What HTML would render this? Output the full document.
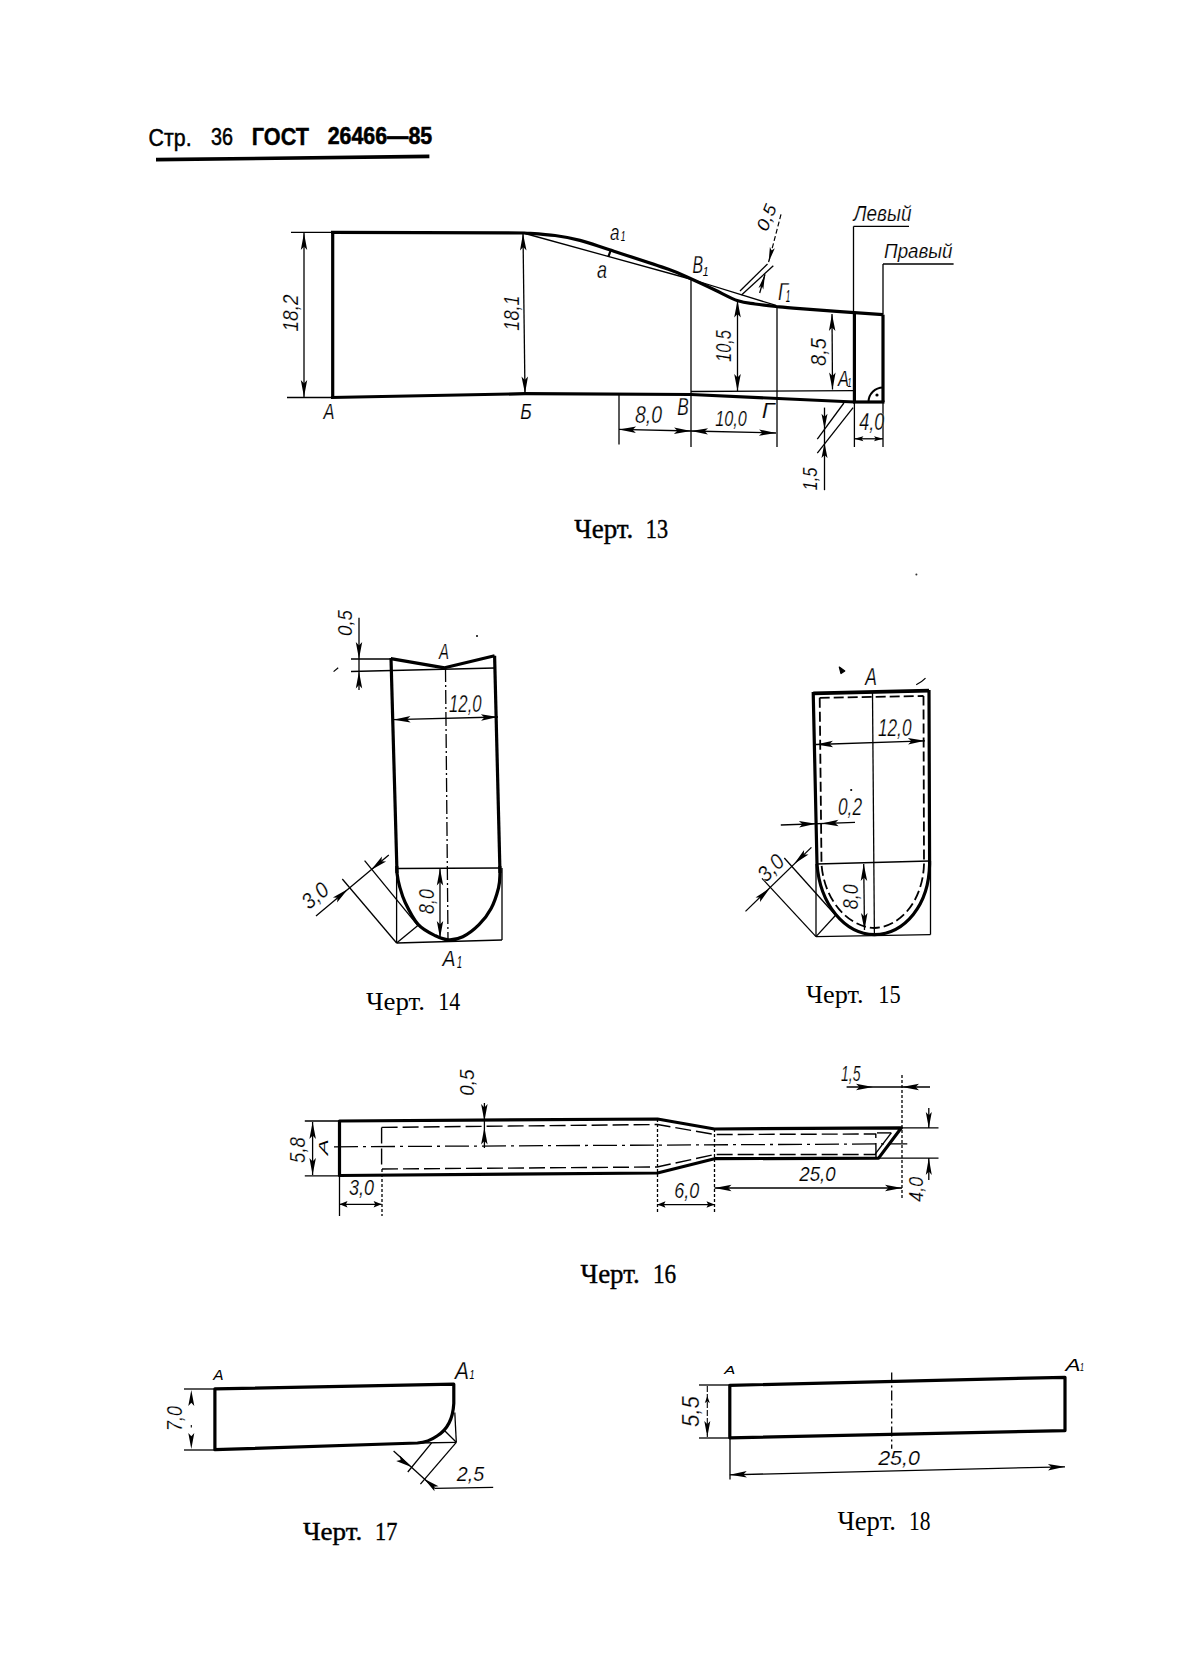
<!DOCTYPE html>
<html><head><meta charset="utf-8"><style>
html,body{margin:0;padding:0;background:#fff;}
svg{display:block;}
text{fill:#000;}
</style></head><body>
<svg width="1187" height="1679" viewBox="0 0 1187 1679">
<rect width="1187" height="1679" fill="#fff"/>
<text x="148.6" y="145.8" font-family="Liberation Sans, sans-serif" font-weight="normal" font-size="24.35" textLength="43.0" lengthAdjust="spacingAndGlyphs" stroke="#000" stroke-width="0.5">Стр.</text>
<text x="211" y="145.3" font-family="Liberation Sans, sans-serif" font-weight="normal" font-size="23.91" textLength="22" lengthAdjust="spacingAndGlyphs" stroke="#000" stroke-width="0.5">36</text>
<text x="251.8" y="144.6" font-family="Liberation Sans, sans-serif" font-weight="bold" font-size="24.35" textLength="57.19999999999999" lengthAdjust="spacingAndGlyphs" stroke="#000" stroke-width="0.4">ГОСТ</text>
<text x="327.7" y="143.8" font-family="Liberation Sans, sans-serif" font-weight="bold" font-size="24.64" textLength="104.5" lengthAdjust="spacingAndGlyphs" stroke="#000" stroke-width="0.6">26466—85</text>
<line x1="156" y1="159.6" x2="429.4" y2="156.4" stroke="#000" stroke-width="3.6"/>
<line x1="332.7" y1="232.3" x2="332.7" y2="397.5" stroke="#000" stroke-width="3.2"/>
<line x1="331" y1="232.3" x2="525" y2="233" stroke="#000" stroke-width="3.2"/>
<line x1="331" y1="397.5" x2="525" y2="393.7" stroke="#000" stroke-width="3.2"/>
<line x1="525" y1="393.7" x2="691" y2="394.5" stroke="#000" stroke-width="3.2"/>
<line x1="691" y1="394.5" x2="854.4" y2="402" stroke="#000" stroke-width="3.2"/>
<path d="M525,233 C530.0,233.4 545.8,234.3 555,235.5 C564.2,236.7 570.9,238.0 580,240.4 C589.1,242.8 594.8,245.0 609.5,249.8 C624.2,254.6 654.8,264.4 668.5,269.3 C682.2,274.2 684.2,275.9 692,279.3 C699.8,282.8 707.4,286.4 715,290 C722.6,293.6 731.2,298.5 737.9,300.8 C744.6,303.1 748.7,303.1 755,304 C761.3,304.9 768.3,305.7 775.8,306.5 C783.3,307.3 782.1,307.3 800,308.7 C817.9,310.1 869.2,313.7 883,314.7" fill="none" stroke="#000" stroke-width="3.2" stroke-linejoin="round"/>
<line x1="525" y1="233.5" x2="692" y2="279.5" stroke="#000" stroke-width="1.3"/>
<line x1="692" y1="279.5" x2="776" y2="305.4" stroke="#000" stroke-width="1.3"/>
<line x1="610.7" y1="250.4" x2="608.3" y2="256.9" stroke="#000" stroke-width="2.2"/>
<line x1="854.4" y1="314" x2="854.4" y2="402" stroke="#000" stroke-width="3.2"/>
<line x1="883" y1="314.7" x2="883" y2="402" stroke="#000" stroke-width="3.2"/>
<line x1="853" y1="402" x2="884.5" y2="402" stroke="#000" stroke-width="3.2"/>
<path d="M868.5,402 A14.5,14.5 0 0 1 883,387.5" fill="none" stroke="#000" stroke-width="2" stroke-linejoin="round"/>
<circle cx="877" cy="395" r="1.6" fill="#000"/>
<line x1="691" y1="391.5" x2="854" y2="390.7" stroke="#000" stroke-width="1.3"/>
<line x1="291" y1="232.3" x2="332" y2="232.3" stroke="#000" stroke-width="1.3"/>
<line x1="287" y1="397.5" x2="332" y2="397.5" stroke="#000" stroke-width="1.3"/>
<line x1="304" y1="233" x2="304" y2="397" stroke="#000" stroke-width="1.3"/>
<polygon points="304.0,233.0 307.2,250.0 304.0,246.6 300.8,250.0" fill="#000"/>
<polygon points="304.0,397.0 300.8,380.0 304.0,383.4 307.2,380.0" fill="#000"/>
<line x1="523" y1="233.5" x2="525" y2="393.5" stroke="#000" stroke-width="1.3"/>
<polygon points="523.0,233.5 526.5,250.5 523.2,247.1 520.0,250.5" fill="#000"/>
<polygon points="525.0,393.5 521.5,376.5 524.8,379.9 528.0,376.5" fill="#000"/>
<line x1="691" y1="280" x2="691" y2="447" stroke="#000" stroke-width="1.3"/>
<line x1="777" y1="306" x2="777" y2="447" stroke="#000" stroke-width="1.3"/>
<line x1="619" y1="393" x2="619" y2="444.5" stroke="#000" stroke-width="1.3"/>
<line x1="854.4" y1="402" x2="854.4" y2="447" stroke="#000" stroke-width="1.3"/>
<line x1="883" y1="402" x2="883" y2="447" stroke="#000" stroke-width="1.3"/>
<line x1="737.5" y1="300.5" x2="737.5" y2="391" stroke="#000" stroke-width="1.3"/>
<polygon points="737.5,300.5 740.8,317.5 737.5,314.1 734.2,317.5" fill="#000"/>
<polygon points="737.5,391.0 734.2,374.0 737.5,377.4 740.8,374.0" fill="#000"/>
<line x1="832" y1="314" x2="832.5" y2="389.6" stroke="#000" stroke-width="1.3"/>
<polygon points="832.0,314.0 835.4,331.0 832.1,327.6 828.9,331.0" fill="#000"/>
<polygon points="832.5,389.6 829.1,372.6 832.4,376.0 835.6,372.6" fill="#000"/>
<line x1="619" y1="429.4" x2="691" y2="431" stroke="#000" stroke-width="1.3"/>
<polygon points="619.0,429.4 636.1,426.5 632.6,429.7 635.9,433.0" fill="#000"/>
<polygon points="691.0,431.0 673.9,433.9 677.4,430.7 674.1,427.4" fill="#000"/>
<line x1="691" y1="431" x2="776" y2="433" stroke="#000" stroke-width="1.3"/>
<polygon points="691.0,431.0 708.1,428.2 704.6,431.3 707.9,434.6" fill="#000"/>
<polygon points="776.0,433.0 758.9,435.8 762.4,432.7 759.1,429.4" fill="#000"/>
<line x1="854.4" y1="438.8" x2="883" y2="438.8" stroke="#000" stroke-width="1.3"/>
<polygon points="854.4,438.8 863.4,436.3 861.6,438.8 863.4,441.3" fill="#000"/>
<polygon points="883.0,438.8 874.0,441.3 875.8,438.8 874.0,436.3" fill="#000"/>
<line x1="853.5" y1="226.4" x2="909" y2="226.4" stroke="#000" stroke-width="1.3"/>
<line x1="853.5" y1="226.4" x2="853.5" y2="314" stroke="#000" stroke-width="1.3"/>
<line x1="883" y1="264" x2="953.6" y2="264" stroke="#000" stroke-width="1.3"/>
<line x1="883" y1="264" x2="883" y2="314.7" stroke="#000" stroke-width="1.3"/>
<line x1="740" y1="291" x2="767.5" y2="264" stroke="#000" stroke-width="1.3"/>
<line x1="741.5" y1="295" x2="773.3" y2="265.8" stroke="#000" stroke-width="1.3"/>
<line x1="781" y1="214.3" x2="768.6" y2="262.2" stroke="#000" stroke-width="1.2" stroke-dasharray="5,2.5"/>
<polygon points="768.6,262.2 769.9,247.1 771.6,250.6 774.8,248.3" fill="#000"/>
<line x1="759.7" y1="293" x2="765" y2="274.3" stroke="#000" stroke-width="1.3"/>
<polygon points="765.0,274.3 763.3,289.4 761.7,285.8 758.5,288.0" fill="#000"/>
<line x1="843.9" y1="403" x2="817.3" y2="439.2" stroke="#000" stroke-width="1.3"/>
<line x1="853.1" y1="407.6" x2="817.3" y2="453.1" stroke="#000" stroke-width="1.3"/>
<line x1="824.5" y1="407.6" x2="824.5" y2="490.2" stroke="#000" stroke-width="1.3"/>
<polygon points="824.5,428.7 821.5,413.7 824.5,416.7 827.5,413.7" fill="#000"/>
<polygon points="824.5,443.0 827.5,458.0 824.5,455.0 821.5,458.0" fill="#000"/>
<text transform="translate(290,313) rotate(-90)" x="0" y="7.50" font-family="Liberation Sans, sans-serif" font-style="italic" font-weight="normal" font-size="21.74" text-anchor="middle" textLength="37" lengthAdjust="spacingAndGlyphs" stroke="#fff" stroke-width="0.20">18,2</text>
<text transform="translate(511,313) rotate(-90)" x="0" y="7.50" font-family="Liberation Sans, sans-serif" font-style="italic" font-weight="normal" font-size="21.74" text-anchor="middle" textLength="35.5" lengthAdjust="spacingAndGlyphs" stroke="#fff" stroke-width="0.20">18,1</text>
<text transform="translate(723.5,346) rotate(-90)" x="0" y="7.50" font-family="Liberation Sans, sans-serif" font-style="italic" font-weight="normal" font-size="21.74" text-anchor="middle" textLength="32" lengthAdjust="spacingAndGlyphs" stroke="#fff" stroke-width="0.20">10,5</text>
<text transform="translate(818,352) rotate(-90)" x="0" y="7.50" font-family="Liberation Sans, sans-serif" font-style="italic" font-weight="normal" font-size="21.74" text-anchor="middle" textLength="28" lengthAdjust="spacingAndGlyphs" stroke="#fff" stroke-width="0.20">8,5</text>
<text transform="translate(810,479) rotate(-90)" x="0" y="7.00" font-family="Liberation Sans, sans-serif" font-style="italic" font-weight="normal" font-size="20.29" text-anchor="middle" textLength="23" lengthAdjust="spacingAndGlyphs" stroke="#fff" stroke-width="0.15">1,5</text>
<text transform="translate(329,411.5) rotate(0)" x="0" y="7.50" font-family="Liberation Sans, sans-serif" font-style="italic" font-weight="normal" font-size="21.74" text-anchor="middle" textLength="11" lengthAdjust="spacingAndGlyphs" stroke="#fff" stroke-width="0.20">А</text>
<text transform="translate(526,411.5) rotate(0)" x="0" y="7.50" font-family="Liberation Sans, sans-serif" font-style="italic" font-weight="normal" font-size="21.74" text-anchor="middle" textLength="11.5" lengthAdjust="spacingAndGlyphs" stroke="#fff" stroke-width="0.20">Б</text>
<text transform="translate(683,407) rotate(0)" x="0" y="8.00" font-family="Liberation Sans, sans-serif" font-style="italic" font-weight="normal" font-size="23.19" text-anchor="middle" textLength="11.5" lengthAdjust="spacingAndGlyphs" stroke="#fff" stroke-width="0.25">В</text>
<text transform="translate(768,410.2) rotate(0)" x="0" y="7.50" font-family="Liberation Sans, sans-serif" font-style="italic" font-weight="normal" font-size="21.74" text-anchor="middle" textLength="12.7" lengthAdjust="spacingAndGlyphs" stroke="#fff" stroke-width="0.20">Г</text>
<text transform="translate(648.5,415) rotate(0)" x="0" y="8.00" font-family="Liberation Sans, sans-serif" font-style="italic" font-weight="normal" font-size="23.19" text-anchor="middle" textLength="27" lengthAdjust="spacingAndGlyphs" stroke="#fff" stroke-width="0.25">8,0</text>
<text transform="translate(731,418) rotate(0)" x="0" y="7.80" font-family="Liberation Sans, sans-serif" font-style="italic" font-weight="normal" font-size="22.61" text-anchor="middle" textLength="31.6" lengthAdjust="spacingAndGlyphs" stroke="#fff" stroke-width="0.23">10,0</text>
<text transform="translate(871.8,421.5) rotate(0)" x="0" y="8.00" font-family="Liberation Sans, sans-serif" font-style="italic" font-weight="normal" font-size="23.19" text-anchor="middle" textLength="25" lengthAdjust="spacingAndGlyphs" stroke="#fff" stroke-width="0.25">4,0</text>
<text transform="translate(602.1,269.5) rotate(0)" x="0" y="8.00" font-family="Liberation Sans, sans-serif" font-style="italic" font-weight="normal" font-size="23.19" text-anchor="middle" textLength="10" lengthAdjust="spacingAndGlyphs" stroke="#fff" stroke-width="0.25">а</text>
<text transform="translate(614.7,232.1) rotate(0)" x="0" y="7.65" font-family="Liberation Sans, sans-serif" font-style="italic" font-weight="normal" font-size="22.17" text-anchor="middle" textLength="9.5" lengthAdjust="spacingAndGlyphs" stroke="#fff" stroke-width="0.22">а</text>
<text transform="translate(623,236.7) rotate(0)" x="0" y="4.75" font-family="Liberation Sans, sans-serif" font-style="italic" font-weight="normal" font-size="13.77" text-anchor="middle" textLength="4.7" lengthAdjust="spacingAndGlyphs" stroke="#fff" stroke-width="0.00">1</text>
<text transform="translate(697.9,265.1) rotate(0)" x="0" y="8.25" font-family="Liberation Sans, sans-serif" font-style="italic" font-weight="normal" font-size="23.91" text-anchor="middle" textLength="10.6" lengthAdjust="spacingAndGlyphs" stroke="#fff" stroke-width="0.25">В</text>
<text transform="translate(705.6,271.6) rotate(0)" x="0" y="4.70" font-family="Liberation Sans, sans-serif" font-style="italic" font-weight="normal" font-size="13.62" text-anchor="middle" textLength="5.8" lengthAdjust="spacingAndGlyphs" stroke="#fff" stroke-width="0.00">1</text>
<text transform="translate(783,291.8) rotate(0)" x="0" y="8.20" font-family="Liberation Sans, sans-serif" font-style="italic" font-weight="normal" font-size="23.77" text-anchor="middle" textLength="10" lengthAdjust="spacingAndGlyphs" stroke="#fff" stroke-width="0.25">Г</text>
<text transform="translate(788,296) rotate(0)" x="0" y="5.50" font-family="Liberation Sans, sans-serif" font-style="italic" font-weight="normal" font-size="15.94" text-anchor="middle" textLength="4.5" lengthAdjust="spacingAndGlyphs" stroke="#fff" stroke-width="0.00">1</text>
<text transform="translate(843.5,378.2) rotate(0)" x="0" y="7.50" font-family="Liberation Sans, sans-serif" font-style="italic" font-weight="normal" font-size="21.74" text-anchor="middle" textLength="11" lengthAdjust="spacingAndGlyphs" stroke="#fff" stroke-width="0.20">А</text>
<text transform="translate(849.5,382) rotate(0)" x="0" y="4.50" font-family="Liberation Sans, sans-serif" font-style="italic" font-weight="normal" font-size="13.04" text-anchor="middle" textLength="4" lengthAdjust="spacingAndGlyphs" stroke="#fff" stroke-width="0.00">1</text>
<text transform="translate(882.5,213) rotate(0)" x="0" y="7.85" font-family="Liberation Sans, sans-serif" font-style="italic" font-weight="normal" font-size="22.75" text-anchor="middle" textLength="58" lengthAdjust="spacingAndGlyphs" stroke="#fff" stroke-width="0.23">Левый</text>
<text transform="translate(918.3,250.8) rotate(0)" x="0" y="7.25" font-family="Liberation Sans, sans-serif" font-style="italic" font-weight="normal" font-size="21.01" text-anchor="middle" textLength="68.5" lengthAdjust="spacingAndGlyphs" stroke="#fff" stroke-width="0.18">Правый</text>
<text transform="translate(766.5,217.5) rotate(-68)" x="0" y="6.00" font-family="Liberation Sans, sans-serif" font-style="italic" font-weight="normal" font-size="17.39" text-anchor="middle" textLength="27" lengthAdjust="spacingAndGlyphs" stroke="#fff" stroke-width="0.05">0,5</text>
<polyline points="390.8,658.6 444.6,667.8 494.6,655.8" fill="none" stroke="#000" stroke-width="3.2" stroke-linejoin="round"/>
<line x1="391" y1="658" x2="397" y2="873" stroke="#000" stroke-width="3.2"/>
<line x1="500" y1="873" x2="494.6" y2="655.8" stroke="#000" stroke-width="3.2"/>
<path d="M396.8,866 C396.8,867.2 396.6,869.7 397,873 C397.4,876.3 398.1,881.1 399.5,886 C400.9,890.9 402.1,896.0 405.2,902.5 C408.3,909.0 413.2,919.2 418.3,924.7 C423.4,930.2 430.4,933.3 435.5,935.8 C440.6,938.3 444.1,939.7 448.6,939.9 C453.2,940.1 457.7,939.3 462.8,936.8 C467.9,934.3 474.3,929.4 479,924.7 C483.7,920.0 487.9,914.6 491.1,908.5 C494.4,902.4 497.0,893.9 498.5,888 C500.0,882.1 499.8,876.7 500,873 C500.2,869.3 499.8,867.2 499.8,866" fill="none" stroke="#000" stroke-width="3.2" stroke-linejoin="round"/>
<line x1="351" y1="659" x2="391" y2="659" stroke="#000" stroke-width="1.3"/>
<line x1="351" y1="671.5" x2="494.6" y2="668" stroke="#000" stroke-width="1.3"/>
<line x1="359" y1="617.8" x2="359" y2="690" stroke="#000" stroke-width="1.3"/>
<polygon points="359.0,659.0 355.8,642.0 359.0,645.4 362.2,642.0" fill="#000"/>
<polygon points="359.0,671.5 362.2,688.5 359.0,685.1 355.8,688.5" fill="#000"/>
<line x1="445.5" y1="668" x2="448" y2="940" stroke="#000" stroke-width="1.3" stroke-dasharray="14,3,2,3"/>
<line x1="393.5" y1="719.7" x2="498" y2="717" stroke="#000" stroke-width="1.3"/>
<polygon points="393.5,719.7 410.4,716.0 407.1,719.3 410.6,722.5" fill="#000"/>
<polygon points="498.0,717.0 481.1,720.7 484.4,717.4 480.9,714.2" fill="#000"/>
<line x1="397" y1="868.5" x2="500" y2="868" stroke="#000" stroke-width="1.3"/>
<line x1="396.6" y1="868" x2="396.6" y2="943" stroke="#000" stroke-width="1.3"/>
<line x1="502" y1="868" x2="502" y2="940" stroke="#000" stroke-width="1.3"/>
<line x1="396.6" y1="943" x2="502" y2="940" stroke="#000" stroke-width="1.3"/>
<line x1="440" y1="868.5" x2="440" y2="938" stroke="#000" stroke-width="1.3"/>
<polygon points="440.0,868.5 443.2,885.5 440.0,882.1 436.8,885.5" fill="#000"/>
<polygon points="440.0,938.0 436.8,921.0 440.0,924.4 443.2,921.0" fill="#000"/>
<line x1="364.6" y1="860.7" x2="417.9" y2="925.6" stroke="#000" stroke-width="1.3"/>
<line x1="342.3" y1="879" x2="396.6" y2="943" stroke="#000" stroke-width="1.3"/>
<line x1="396.6" y1="943" x2="417.9" y2="925.6" stroke="#000" stroke-width="1.3"/>
<line x1="316" y1="916" x2="388.8" y2="855" stroke="#000" stroke-width="1.3"/>
<polygon points="371.0,870.0 381.9,856.6 381.4,861.2 386.1,861.5" fill="#000"/>
<polygon points="348.0,889.0 337.1,902.4 337.6,897.8 332.9,897.5" fill="#000"/>
<text transform="translate(344.5,623) rotate(-90)" x="0" y="7.00" font-family="Liberation Sans, sans-serif" font-style="italic" font-weight="normal" font-size="20.29" text-anchor="middle" textLength="26" lengthAdjust="spacingAndGlyphs" stroke="#fff" stroke-width="0.15">0,5</text>
<text transform="translate(444,651.7) rotate(0)" x="0" y="7.75" font-family="Liberation Sans, sans-serif" font-style="italic" font-weight="normal" font-size="22.46" text-anchor="middle" textLength="10" lengthAdjust="spacingAndGlyphs" stroke="#fff" stroke-width="0.23">А</text>
<text transform="translate(465.3,704) rotate(0)" x="0" y="8.25" font-family="Liberation Sans, sans-serif" font-style="italic" font-weight="normal" font-size="23.91" text-anchor="middle" textLength="32.6" lengthAdjust="spacingAndGlyphs" stroke="#fff" stroke-width="0.25">12,0</text>
<text transform="translate(426.5,901.5) rotate(-90)" x="0" y="7.50" font-family="Liberation Sans, sans-serif" font-style="italic" font-weight="normal" font-size="21.74" text-anchor="middle" textLength="25" lengthAdjust="spacingAndGlyphs" stroke="#fff" stroke-width="0.20">8,0</text>
<text transform="translate(315,895.5) rotate(-40)" x="0" y="7.50" font-family="Liberation Sans, sans-serif" font-style="italic" font-weight="normal" font-size="21.74" text-anchor="middle" textLength="28" lengthAdjust="spacingAndGlyphs" stroke="#fff" stroke-width="0.20">3,0</text>
<text transform="translate(449,958) rotate(0)" x="0" y="7.50" font-family="Liberation Sans, sans-serif" font-style="italic" font-weight="normal" font-size="21.74" text-anchor="middle" textLength="13" lengthAdjust="spacingAndGlyphs" stroke="#fff" stroke-width="0.20">А</text>
<text transform="translate(459.5,962) rotate(0)" x="0" y="5.50" font-family="Liberation Sans, sans-serif" font-style="italic" font-weight="normal" font-size="15.94" text-anchor="middle" textLength="5" lengthAdjust="spacingAndGlyphs" stroke="#fff" stroke-width="0.00">1</text>
<line x1="813.2" y1="693.4" x2="929" y2="690.7" stroke="#000" stroke-width="3.7"/>
<path d="M813.2,692 L817,864 C820,905 845,934 874.4,934.6 C905,934 929,905 929.6,864 L929,690" fill="none" stroke="#000" stroke-width="3.2" stroke-linejoin="round"/>
<path d="M819.7,697.8 L923.5,696 M819.7,697.8 L821.5,864 C824,900 848,927 874.4,928 C901,927 923,900 924,864 L923.5,696" fill="none" stroke="#000" stroke-width="1.8" stroke-linejoin="round" stroke-dasharray="10,4"/>
<line x1="872.5" y1="693" x2="874.4" y2="934.6" stroke="#000" stroke-width="1.3"/>
<line x1="816" y1="744.5" x2="925" y2="740.8" stroke="#000" stroke-width="1.3"/>
<polygon points="816.0,744.5 832.9,740.7 829.6,744.0 833.1,747.2" fill="#000"/>
<polygon points="925.0,740.8 908.1,744.6 911.4,741.3 907.9,738.1" fill="#000"/>
<line x1="780.8" y1="825" x2="855" y2="822.4" stroke="#000" stroke-width="1.3"/>
<polygon points="816.0,823.8 799.1,827.6 802.4,824.3 798.9,821.1" fill="#000"/>
<polygon points="821.5,823.6 838.4,819.8 835.1,823.1 838.6,826.3" fill="#000"/>
<line x1="817" y1="864" x2="929.6" y2="861" stroke="#000" stroke-width="1.3"/>
<line x1="816" y1="864" x2="816" y2="936.6" stroke="#000" stroke-width="1.3"/>
<line x1="816" y1="936.6" x2="930.5" y2="934.6" stroke="#000" stroke-width="1.3"/>
<line x1="930.5" y1="861" x2="930.5" y2="934.6" stroke="#000" stroke-width="1.3"/>
<line x1="863.7" y1="864" x2="864.5" y2="930" stroke="#000" stroke-width="1.3"/>
<polygon points="863.7,864.0 867.2,881.0 863.9,877.6 860.7,881.0" fill="#000"/>
<polygon points="864.5,930.0 861.0,913.0 864.3,916.4 867.5,913.0" fill="#000"/>
<line x1="784.3" y1="858" x2="835.6" y2="915.3" stroke="#000" stroke-width="1.3"/>
<line x1="762" y1="878.4" x2="816" y2="936.6" stroke="#000" stroke-width="1.3"/>
<line x1="816" y1="936.6" x2="835.6" y2="915.3" stroke="#000" stroke-width="1.3"/>
<line x1="745.5" y1="911.4" x2="811.4" y2="847.4" stroke="#000" stroke-width="1.3"/>
<polygon points="794.0,864.0 804.1,849.9 803.8,854.6 808.5,854.6" fill="#000"/>
<polygon points="770.0,888.0 760.0,902.1 760.2,897.4 755.5,897.4" fill="#000"/>
<text transform="translate(871,676.8) rotate(0)" x="0" y="8.35" font-family="Liberation Sans, sans-serif" font-style="italic" font-weight="normal" font-size="24.20" text-anchor="middle" textLength="11.6" lengthAdjust="spacingAndGlyphs" stroke="#fff" stroke-width="0.25">А</text>
<text transform="translate(894.7,727.8) rotate(0)" x="0" y="8.25" font-family="Liberation Sans, sans-serif" font-style="italic" font-weight="normal" font-size="23.91" text-anchor="middle" textLength="33.5" lengthAdjust="spacingAndGlyphs" stroke="#fff" stroke-width="0.25">12,0</text>
<text transform="translate(850,806.5) rotate(0)" x="0" y="8.50" font-family="Liberation Sans, sans-serif" font-style="italic" font-weight="normal" font-size="24.64" text-anchor="middle" textLength="24" lengthAdjust="spacingAndGlyphs" stroke="#fff" stroke-width="0.25">0,2</text>
<text transform="translate(850,896.7) rotate(-90)" x="0" y="7.75" font-family="Liberation Sans, sans-serif" font-style="italic" font-weight="normal" font-size="22.46" text-anchor="middle" textLength="25" lengthAdjust="spacingAndGlyphs" stroke="#fff" stroke-width="0.23">8,0</text>
<text transform="translate(770.6,867.7) rotate(-45)" x="0" y="7.50" font-family="Liberation Sans, sans-serif" font-style="italic" font-weight="normal" font-size="21.74" text-anchor="middle" textLength="28" lengthAdjust="spacingAndGlyphs" stroke="#fff" stroke-width="0.20">3,0</text>
<path d="M339.5,1121 L657.5,1119 L714.5,1129 L901.4,1127.8 L878.6,1158.1 L714.5,1158.7 L657.5,1173 L339.5,1175.5 Z" fill="none" stroke="#000" stroke-width="3.2" stroke-linejoin="round"/>
<path d="M381.6,1127.4 L657.5,1124.5 L714.5,1134.5 L875.8,1134 L876,1157 M381.6,1127.4 L381.6,1169 L657,1167 L714.5,1154.5 L876,1154.5" fill="none" stroke="#000" stroke-width="1.4" stroke-linejoin="round" stroke-dasharray="16,5"/>
<line x1="334" y1="1146.8" x2="907.3" y2="1143.8" stroke="#000" stroke-width="1.3" stroke-dasharray="24,5,3,5"/>
<line x1="875.3" y1="1153.9" x2="891.3" y2="1132.9" stroke="#000" stroke-width="1.4"/>
<line x1="877" y1="1132.9" x2="891.3" y2="1132.9" stroke="#000" stroke-width="1.4"/>
<line x1="304.8" y1="1121" x2="339.5" y2="1121" stroke="#000" stroke-width="1.3"/>
<line x1="304.8" y1="1175.8" x2="339.5" y2="1175.8" stroke="#000" stroke-width="1.3"/>
<line x1="312.6" y1="1122" x2="312.6" y2="1175" stroke="#000" stroke-width="1.3"/>
<polygon points="312.6,1122.0 315.9,1139.0 312.6,1135.6 309.4,1139.0" fill="#000"/>
<polygon points="312.6,1175.0 309.4,1158.0 312.6,1161.4 315.9,1158.0" fill="#000"/>
<line x1="339.5" y1="1175.5" x2="339.5" y2="1216" stroke="#000" stroke-width="1.3"/>
<line x1="382" y1="1169" x2="382" y2="1216" stroke="#000" stroke-width="1.3" stroke-dasharray="3,2"/>
<line x1="339.5" y1="1204.3" x2="381.6" y2="1204.3" stroke="#000" stroke-width="1.3"/>
<polygon points="339.5,1204.3 347.5,1201.0 345.9,1204.3 347.5,1207.5" fill="#000"/>
<polygon points="381.6,1204.3 373.6,1207.5 375.2,1204.3 373.6,1201.0" fill="#000"/>
<line x1="484.4" y1="1103" x2="484.4" y2="1148" stroke="#000" stroke-width="1.3"/>
<polygon points="484.4,1121.0 481.1,1104.0 484.4,1107.4 487.6,1104.0" fill="#000"/>
<polygon points="484.4,1127.5 487.6,1144.5 484.4,1141.1 481.1,1144.5" fill="#000"/>
<line x1="657.5" y1="1119" x2="657.5" y2="1213" stroke="#000" stroke-width="1.3" stroke-dasharray="3,2"/>
<line x1="714.5" y1="1129" x2="714.5" y2="1213" stroke="#000" stroke-width="1.3" stroke-dasharray="3,2"/>
<line x1="902" y1="1075" x2="902" y2="1199" stroke="#000" stroke-width="1.3" stroke-dasharray="3,2"/>
<line x1="657.5" y1="1204.6" x2="714.5" y2="1204.6" stroke="#000" stroke-width="1.3"/>
<polygon points="657.5,1204.6 665.5,1201.3 663.9,1204.6 665.5,1207.8" fill="#000"/>
<polygon points="714.5,1204.6 706.5,1207.8 708.1,1204.6 706.5,1201.3" fill="#000"/>
<line x1="714.5" y1="1188" x2="902" y2="1188" stroke="#000" stroke-width="1.3"/>
<polygon points="714.5,1188.0 731.5,1184.8 728.1,1188.0 731.5,1191.2" fill="#000"/>
<polygon points="902.0,1188.0 885.0,1191.2 888.4,1188.0 885.0,1184.8" fill="#000"/>
<line x1="846.6" y1="1087" x2="930" y2="1087" stroke="#000" stroke-width="1.3"/>
<polygon points="873.0,1087.0 856.0,1090.2 859.4,1087.0 856.0,1083.8" fill="#000"/>
<polygon points="902.0,1087.0 919.0,1083.8 915.6,1087.0 919.0,1090.2" fill="#000"/>
<line x1="901.4" y1="1127.8" x2="938.5" y2="1127.8" stroke="#000" stroke-width="1.3"/>
<line x1="878.6" y1="1158.1" x2="938.5" y2="1158.1" stroke="#000" stroke-width="1.3"/>
<line x1="928.8" y1="1108" x2="928.8" y2="1128" stroke="#000" stroke-width="1.3"/>
<line x1="928.8" y1="1158" x2="928.8" y2="1180" stroke="#000" stroke-width="1.3"/>
<polygon points="928.8,1128.0 925.8,1112.0 928.8,1115.2 931.8,1112.0" fill="#000"/>
<polygon points="928.8,1158.0 931.8,1175.0 928.8,1171.6 925.8,1175.0" fill="#000"/>
<text transform="translate(297,1150) rotate(-90)" x="0" y="7.90" font-family="Liberation Sans, sans-serif" font-style="italic" font-weight="normal" font-size="22.90" text-anchor="middle" textLength="26" lengthAdjust="spacingAndGlyphs" stroke="#fff" stroke-width="0.24">5,8</text>
<text transform="translate(324,1147) rotate(-90)" x="0" y="4.25" font-family="Liberation Sans, sans-serif" font-style="italic" font-weight="normal" font-size="12.32" text-anchor="middle" textLength="15.8" lengthAdjust="spacingAndGlyphs" stroke="#fff" stroke-width="0.00">А</text>
<text transform="translate(361.5,1187.4) rotate(0)" x="0" y="7.40" font-family="Liberation Sans, sans-serif" font-style="italic" font-weight="normal" font-size="21.45" text-anchor="middle" textLength="25" lengthAdjust="spacingAndGlyphs" stroke="#fff" stroke-width="0.19">3,0</text>
<text transform="translate(467.5,1082.6) rotate(-90)" x="0" y="6.85" font-family="Liberation Sans, sans-serif" font-style="italic" font-weight="normal" font-size="19.86" text-anchor="middle" textLength="26.3" lengthAdjust="spacingAndGlyphs" stroke="#fff" stroke-width="0.13">0,5</text>
<text transform="translate(686.7,1189.8) rotate(0)" x="0" y="7.80" font-family="Liberation Sans, sans-serif" font-style="italic" font-weight="normal" font-size="22.61" text-anchor="middle" textLength="25" lengthAdjust="spacingAndGlyphs" stroke="#fff" stroke-width="0.23">6,0</text>
<text transform="translate(817.4,1174) rotate(0)" x="0" y="7.00" font-family="Liberation Sans, sans-serif" font-style="italic" font-weight="normal" font-size="20.29" text-anchor="middle" textLength="36.2" lengthAdjust="spacingAndGlyphs" stroke="#fff" stroke-width="0.15">25,0</text>
<text transform="translate(850.7,1073.3) rotate(0)" x="0" y="7.70" font-family="Liberation Sans, sans-serif" font-style="italic" font-weight="normal" font-size="22.32" text-anchor="middle" textLength="19.5" lengthAdjust="spacingAndGlyphs" stroke="#fff" stroke-width="0.22">1,5</text>
<text transform="translate(916,1189.3) rotate(-90)" x="0" y="7.00" font-family="Liberation Sans, sans-serif" font-style="italic" font-weight="normal" font-size="20.29" text-anchor="middle" textLength="25" lengthAdjust="spacingAndGlyphs" stroke="#fff" stroke-width="0.15">4,0</text>
<path d="M214.9,1388.9 L453.8,1384.2 L453.8,1403.4 C453,1418 447,1430 437,1436 C430,1441 424,1442.5 417.4,1443 L214.9,1449.7 Z" fill="none" stroke="#000" stroke-width="3.2" stroke-linejoin="round"/>
<line x1="454.8" y1="1412.5" x2="456.3" y2="1442.3" stroke="#000" stroke-width="1.3"/>
<line x1="417.4" y1="1443" x2="456.3" y2="1442.3" stroke="#000" stroke-width="1.3"/>
<line x1="456.3" y1="1442.3" x2="444.7" y2="1430.7" stroke="#000" stroke-width="1.3"/>
<line x1="431.6" y1="1442.8" x2="407.8" y2="1472" stroke="#000" stroke-width="1.3"/>
<line x1="456.3" y1="1442.3" x2="420.4" y2="1484.2" stroke="#000" stroke-width="1.3"/>
<line x1="393.6" y1="1450.9" x2="434.6" y2="1488.3" stroke="#000" stroke-width="1.3"/>
<line x1="434.6" y1="1488.3" x2="493.2" y2="1487.3" stroke="#000" stroke-width="1.3"/>
<polygon points="411.3,1467.0 396.2,1460.9 400.6,1459.9 399.8,1455.5" fill="#000"/>
<polygon points="424.0,1478.7 438.5,1486.2 434.0,1486.7 434.5,1491.2" fill="#000"/>
<line x1="184" y1="1389" x2="214.9" y2="1389" stroke="#000" stroke-width="1.3"/>
<line x1="184" y1="1450" x2="214.9" y2="1450" stroke="#000" stroke-width="1.3"/>
<polygon points="191.3,1390.0 194.3,1406.0 191.3,1402.8 188.3,1406.0" fill="#000"/>
<polygon points="191.3,1449.0 188.3,1433.0 191.3,1436.2 194.3,1433.0" fill="#000"/>
<line x1="191.3" y1="1425" x2="191.3" y2="1427.5" stroke="#000" stroke-width="1.1"/>
<text transform="translate(218.5,1374.3) rotate(0)" x="0" y="5.25" font-family="Liberation Sans, sans-serif" font-style="italic" font-weight="normal" font-size="15.22" text-anchor="middle" textLength="10.3" lengthAdjust="spacingAndGlyphs" stroke="#fff" stroke-width="0.00">А</text>
<text transform="translate(462,1371.4) rotate(0)" x="0" y="8.00" font-family="Liberation Sans, sans-serif" font-style="italic" font-weight="normal" font-size="23.19" text-anchor="middle" textLength="14" lengthAdjust="spacingAndGlyphs" stroke="#fff" stroke-width="0.25">А</text>
<text transform="translate(472,1374) rotate(0)" x="0" y="4.50" font-family="Liberation Sans, sans-serif" font-style="italic" font-weight="normal" font-size="13.04" text-anchor="middle" textLength="5" lengthAdjust="spacingAndGlyphs" stroke="#fff" stroke-width="0.00">1</text>
<text transform="translate(175,1418.5) rotate(-90)" x="0" y="7.35" font-family="Liberation Sans, sans-serif" font-style="italic" font-weight="normal" font-size="21.30" text-anchor="middle" textLength="25" lengthAdjust="spacingAndGlyphs" stroke="#fff" stroke-width="0.18">7,0</text>
<text transform="translate(470.5,1473.6) rotate(0)" x="0" y="7.10" font-family="Liberation Sans, sans-serif" font-style="italic" font-weight="normal" font-size="20.58" text-anchor="middle" textLength="27.3" lengthAdjust="spacingAndGlyphs" stroke="#fff" stroke-width="0.16">2,5</text>
<polygon points="729.8,1385.3 1065,1377.3 1065,1430.6 729.8,1437.8" fill="none" stroke="#000" stroke-width="3.2" stroke-linejoin="round"/>
<line x1="891.7" y1="1372.6" x2="891.7" y2="1448.7" stroke="#000" stroke-width="1.3" stroke-dasharray="10,3,2,3"/>
<line x1="699" y1="1385" x2="729.8" y2="1385" stroke="#000" stroke-width="1.3"/>
<line x1="699" y1="1438" x2="729.8" y2="1438" stroke="#000" stroke-width="1.3"/>
<line x1="707.3" y1="1386" x2="707.3" y2="1437" stroke="#000" stroke-width="1.1" stroke-dasharray="6,2"/>
<polygon points="707.3,1437.0 704.3,1421.0 707.3,1424.2 710.3,1421.0" fill="#000"/>
<polygon points="707.3,1396.0 709.8,1403.0 707.3,1401.6 704.8,1403.0" fill="#000"/>
<line x1="730" y1="1438" x2="730" y2="1479.5" stroke="#000" stroke-width="1.3"/>
<line x1="729.8" y1="1474.8" x2="1065" y2="1466.8" stroke="#000" stroke-width="1.3"/>
<polygon points="729.8,1474.8 746.7,1471.1 743.4,1474.5 746.9,1477.6" fill="#000"/>
<polygon points="1065.0,1466.8 1048.1,1470.5 1051.4,1467.1 1047.9,1464.0" fill="#000"/>
<text transform="translate(690.8,1411.5) rotate(-90)" x="0" y="8.15" font-family="Liberation Sans, sans-serif" font-style="italic" font-weight="normal" font-size="23.62" text-anchor="middle" textLength="31" lengthAdjust="spacingAndGlyphs" stroke="#fff" stroke-width="0.25">5,5</text>
<text transform="translate(899,1457.8) rotate(0)" x="0" y="7.25" font-family="Liberation Sans, sans-serif" font-style="italic" font-weight="normal" font-size="21.01" text-anchor="middle" textLength="41.7" lengthAdjust="spacingAndGlyphs" stroke="#fff" stroke-width="0.18">25,0</text>
<text transform="translate(729.7,1370.7) rotate(0)" x="0" y="3.70" font-family="Liberation Sans, sans-serif" font-style="italic" font-weight="normal" font-size="10.72" text-anchor="middle" textLength="11" lengthAdjust="spacingAndGlyphs" stroke="#fff" stroke-width="0.00">А</text>
<text transform="translate(1073,1365.4) rotate(0)" x="0" y="5.40" font-family="Liberation Sans, sans-serif" font-style="italic" font-weight="normal" font-size="15.65" text-anchor="middle" textLength="15" lengthAdjust="spacingAndGlyphs" stroke="#fff" stroke-width="0.00">А</text>
<text transform="translate(1082,1367) rotate(0)" x="0" y="3.50" font-family="Liberation Sans, sans-serif" font-style="italic" font-weight="normal" font-size="10.14" text-anchor="middle" textLength="4" lengthAdjust="spacingAndGlyphs" stroke="#fff" stroke-width="0.00">1</text>
<line x1="333.6" y1="671.6" x2="338.2" y2="667.8" stroke="#000" stroke-width="1.2"/>
<circle cx="477" cy="636" r="1" fill="#000"/>
<path d="M839.3,667 L844.8,671 L841,673.5 Z" fill="#000" stroke="#000" stroke-width="1.2" stroke-linejoin="round"/>
<path d="M916.2,684.7 Q922,682 925.5,678.2" fill="none" stroke="#000" stroke-width="1.2" stroke-linejoin="round"/>
<circle cx="851.2" cy="790" r="1.1" fill="#000"/>
<circle cx="916.4" cy="574.4" r="1" fill="#333"/>
<text x="574.2" y="538" font-family="Liberation Serif, serif" font-size="26.82" textLength="59.19999999999993" lengthAdjust="spacingAndGlyphs" stroke="#000" stroke-width="0.4">Черт.</text>
<text x="645.8" y="538" font-family="Liberation Serif, serif" font-size="26.82" textLength="22.200000000000045" lengthAdjust="spacingAndGlyphs" stroke="#000" stroke-width="0.4">13</text>
<text x="366" y="1010" font-family="Liberation Serif, serif" font-size="25.30" textLength="59" lengthAdjust="spacingAndGlyphs">Черт.</text>
<text x="438.2" y="1010" font-family="Liberation Serif, serif" font-size="25.30" textLength="21.900000000000034" lengthAdjust="spacingAndGlyphs">14</text>
<text x="806" y="1002.8" font-family="Liberation Serif, serif" font-size="25.91" textLength="57.60000000000002" lengthAdjust="spacingAndGlyphs">Черт.</text>
<text x="878.2" y="1002.8" font-family="Liberation Serif, serif" font-size="25.91" textLength="22.399999999999977" lengthAdjust="spacingAndGlyphs">15</text>
<text x="580.6" y="1282.5" font-family="Liberation Serif, serif" font-size="27.73" textLength="59.19999999999993" lengthAdjust="spacingAndGlyphs" stroke="#000" stroke-width="0.4">Черт.</text>
<text x="652.9" y="1282.5" font-family="Liberation Serif, serif" font-size="27.73" textLength="23.300000000000068" lengthAdjust="spacingAndGlyphs" stroke="#000" stroke-width="0.4">16</text>
<text x="302.9" y="1540.1" font-family="Liberation Serif, serif" font-size="25.91" textLength="59.400000000000034" lengthAdjust="spacingAndGlyphs" stroke="#000" stroke-width="0.4">Черт.</text>
<text x="375.1" y="1540.1" font-family="Liberation Serif, serif" font-size="25.91" textLength="22.299999999999955" lengthAdjust="spacingAndGlyphs" stroke="#000" stroke-width="0.4">17</text>
<text x="837.4" y="1529.7" font-family="Liberation Serif, serif" font-size="26.82" textLength="58.60000000000002" lengthAdjust="spacingAndGlyphs">Черт.</text>
<text x="909.1" y="1529.7" font-family="Liberation Serif, serif" font-size="26.82" textLength="21.5" lengthAdjust="spacingAndGlyphs">18</text>
</svg></body></html>
